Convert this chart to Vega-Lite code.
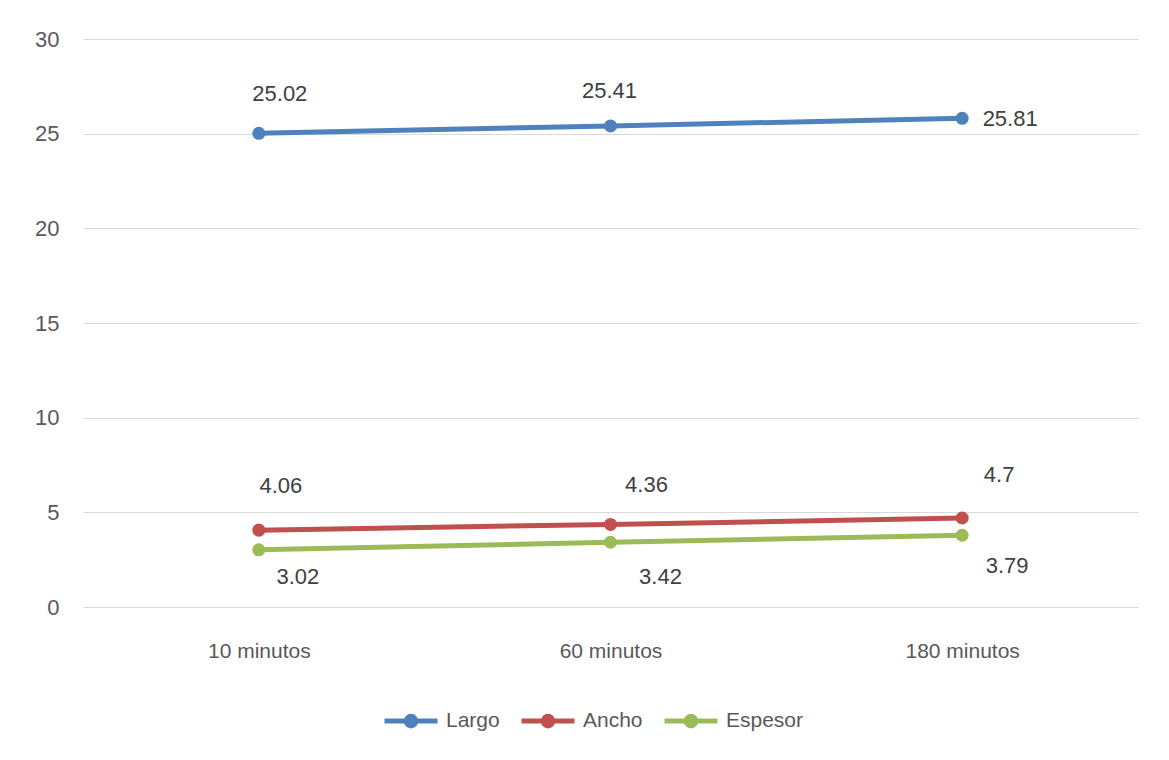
{
  "$schema": "https://vega.github.io/schema/vega-lite/v6.json",
  "width": 1055,
  "height": 568,
  "autosize": {"type": "none"},
  "padding": {"left": 83, "top": 39, "right": 31, "bottom": 153},
  "background": "white",
  "config": {
    "view": {"stroke": null},
    "font": "Liberation Sans",
    "axis": {"labelFont": "Liberation Sans", "labelColor": "#595959"}
  },
  "data": {
    "values": [
      {"tiempo": "10 minutos", "serie": "Largo", "valor": 25.02},
      {"tiempo": "60 minutos", "serie": "Largo", "valor": 25.41},
      {"tiempo": "180 minutos", "serie": "Largo", "valor": 25.81},
      {"tiempo": "10 minutos", "serie": "Ancho", "valor": 4.06},
      {"tiempo": "60 minutos", "serie": "Ancho", "valor": 4.36},
      {"tiempo": "180 minutos", "serie": "Ancho", "valor": 4.7},
      {"tiempo": "10 minutos", "serie": "Espesor", "valor": 3.02},
      {"tiempo": "60 minutos", "serie": "Espesor", "valor": 3.42},
      {"tiempo": "180 minutos", "serie": "Espesor", "valor": 3.79}
    ]
  },
  "encoding": {
    "x": {
      "field": "tiempo", "type": "nominal",
      "sort": ["10 minutos", "60 minutos", "180 minutos"],
      "scale": {"type": "point", "padding": 0.5},
      "axis": {"title": null, "labelAngle": 0, "ticks": false, "domain": false, "grid": false, "labelFontSize": 21, "labelPadding": 33, "labelBaseline": "top"}
    },
    "y": {
      "field": "valor", "type": "quantitative",
      "scale": {"domain": [0, 30], "nice": false},
      "axis": {"title": null, "values": [0, 5, 10, 15, 20, 25, 30], "ticks": false, "domain": false, "grid": true, "gridColor": "#D9D9D9", "gridWidth": 1.2, "labelFontSize": 22, "labelPadding": 24}
    }
  },
  "layer": [
    {
      "mark": {"type": "line", "strokeWidth": 5, "point": {"filled": true, "size": 170}},
      "encoding": {
        "color": {
          "field": "serie", "type": "nominal",
          "scale": {"domain": ["Largo", "Ancho", "Espesor"], "range": ["#4F81BD", "#C0504D", "#9BBB59"]},
          "legend": {
            "title": null,
            "orient": "none",
            "direction": "horizontal",
            "legendX": 299,
            "legendY": 653,
            "symbolType": "M-1,0H1M-0.18,0A0.18,0.18 0 1,0 0.18,0A0.18,0.18 0 1,0 -0.18,0Z",
            "symbolSize": 2809,
            "symbolStrokeWidth": 5,
            "labelFontSize": 21,
            "labelColor": "#595959",
            "labelFont": "Liberation Sans",
            "labelOffset": 6,
            "columnPadding": 11,
            "encode": {"symbols": {"update": {"fill": {"scale": "color", "field": "value"}, "stroke": {"scale": "color", "field": "value"}}}}
          }
        }
      }
    },
    {"transform": [{"filter": "datum.serie == 'Largo' && datum.tiempo == '10 minutos'"}], "mark": {"type": "text", "dx": 21, "dy": -39, "fontSize": 22, "color": "#404040"}, "encoding": {"text": {"field": "valor", "type": "nominal"}}},
    {"transform": [{"filter": "datum.serie == 'Largo' && datum.tiempo == '60 minutos'"}], "mark": {"type": "text", "dx": -1, "dy": -35, "fontSize": 22, "color": "#404040"}, "encoding": {"text": {"field": "valor", "type": "nominal"}}},
    {"transform": [{"filter": "datum.serie == 'Largo' && datum.tiempo == '180 minutos'"}], "mark": {"type": "text", "dx": 48, "dy": 1, "fontSize": 22, "color": "#404040"}, "encoding": {"text": {"field": "valor", "type": "nominal"}}},
    {"transform": [{"filter": "datum.serie == 'Ancho' && datum.tiempo == '10 minutos'"}], "mark": {"type": "text", "dx": 22, "dy": -44, "fontSize": 22, "color": "#404040"}, "encoding": {"text": {"field": "valor", "type": "nominal"}}},
    {"transform": [{"filter": "datum.serie == 'Ancho' && datum.tiempo == '60 minutos'"}], "mark": {"type": "text", "dx": 36, "dy": -39, "fontSize": 22, "color": "#404040"}, "encoding": {"text": {"field": "valor", "type": "nominal"}}},
    {"transform": [{"filter": "datum.serie == 'Ancho' && datum.tiempo == '180 minutos'"}], "mark": {"type": "text", "dx": 37, "dy": -43, "fontSize": 22, "color": "#404040"}, "encoding": {"text": {"field": "valor", "type": "nominal"}}},
    {"transform": [{"filter": "datum.serie == 'Espesor' && datum.tiempo == '10 minutos'"}], "mark": {"type": "text", "dx": 39, "dy": 27, "fontSize": 22, "color": "#404040"}, "encoding": {"text": {"field": "valor", "type": "nominal"}}},
    {"transform": [{"filter": "datum.serie == 'Espesor' && datum.tiempo == '60 minutos'"}], "mark": {"type": "text", "dx": 50, "dy": 35, "fontSize": 22, "color": "#404040"}, "encoding": {"text": {"field": "valor", "type": "nominal"}}},
    {"transform": [{"filter": "datum.serie == 'Espesor' && datum.tiempo == '180 minutos'"}], "mark": {"type": "text", "dx": 45, "dy": 31, "fontSize": 22, "color": "#404040"}, "encoding": {"text": {"field": "valor", "type": "nominal"}}}
  ]
}
